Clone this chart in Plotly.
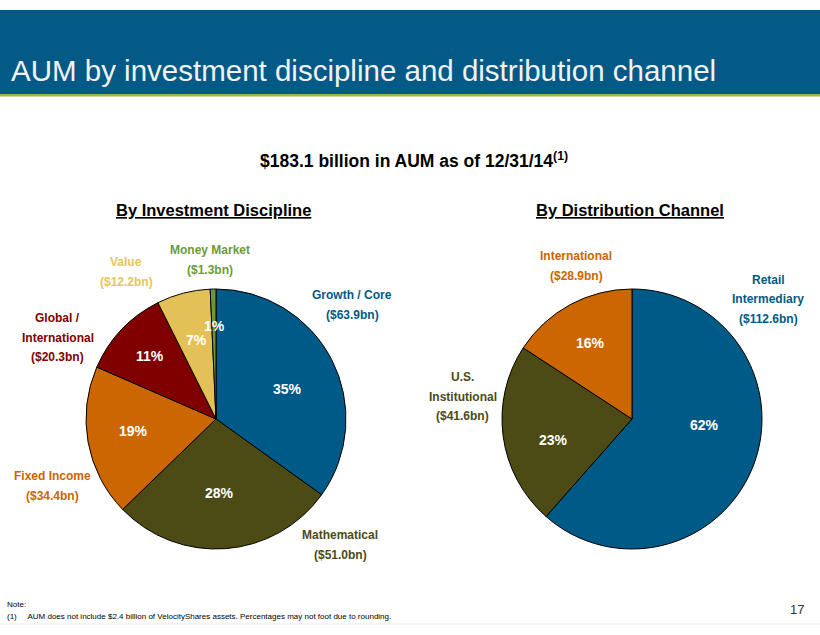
import plotly.graph_objects as go

# AUM by investment discipline ($bn), clockwise from 12 o'clock
disc_names = ["Growth / Core", "Mathematical", "Fixed Income",
              "Global / International", "Value", "Money Market"]
disc_aum = [63.9, 51.0, 34.4, 20.3, 12.2, 1.3]
disc_pct = ["35%", "28%", "19%", "11%", "7%", "1%"]
disc_colors = ["#005A87", "#4C4B16", "#CC6600", "#800000", "#E3C157", "#6B992F"]
disc_label_colors = ["#005A87", "#4C4B16", "#CC6600", "#800000", "#E6C45E", "#6E9A36"]

# AUM by distribution channel ($bn)
chan_names = ["Retail Intermediary", "U.S. Institutional", "International"]
chan_aum = [112.6, 41.6, 28.9]
chan_pct = ["62%", "23%", "16%"]
chan_colors = ["#005A87", "#4C4B16", "#CC6600"]

W, H = 820, 635
BAND = "#045A87"
ARIAL = "Liberation Sans, Arial, sans-serif"


def px(x):
    return x / W


def py(y):
    return 1 - y / H


def pie(names, vals, colors, cx, cy, r):
    return go.Pie(
        labels=names, values=vals, textinfo="none",
        marker=dict(colors=colors, line=dict(color="black", width=1)),
        sort=False, direction="clockwise", rotation=0,
        domain=dict(x=[px(cx - r), px(cx + r)], y=[py(cy + r), py(cy - r)]),
        hoverinfo="label+value+percent", showlegend=False,
    )


fig = go.Figure()
fig.add_trace(pie(disc_names, disc_aum, disc_colors, 216, 419, 130))
fig.add_trace(pie(chan_names, chan_aum, chan_colors, 632, 419, 130))

# header band
fig.add_shape(type="rect", xref="paper", yref="paper", x0=0, x1=1,
              y0=py(94), y1=py(10), fillcolor=BAND, line_width=0, layer="below")
fig.add_shape(type="rect", xref="paper", yref="paper", x0=0, x1=1,
              y0=py(96.5), y1=py(94), fillcolor="#9BBB3C", line_width=0, layer="below")
fig.add_shape(type="line", xref="paper", yref="paper", x0=0, x1=1,
              y0=py(624), y1=py(624), line=dict(color="#EBEBEB", width=1))

ann = []


def text(x, y, s, size, color="black", family=ARIAL, xanchor="center"):
    ann.append(dict(x=px(x), y=py(y), xref="paper", yref="paper", text=s,
                    showarrow=False, xanchor=xanchor, yanchor="middle",
                    font=dict(family=family, size=size, color=color)))


text(9, 71, "AUM by investment discipline and distribution channel", 29.5,
     "#F2F2F2", ARIAL, "left")
text(414, 160, "<b>$183.1 billion in AUM as of 12/31/14<sup>(1)</sup></b>", 17.5)
text(213, 210, "<b><u>By Investment Discipline</u></b>", 16.5)
text(630, 210, "<b><u>By Distribution Channel</u></b>", 16.5)

# percent labels inside the slices
disc_pct_xy = [(287, 389), (219, 493), (133, 431), (150, 356), (196, 340), (214, 326)]
chan_pct_xy = [(704, 425), (553, 440), (590, 343)]
for p, (x, y) in zip(disc_pct + chan_pct, disc_pct_xy + chan_pct_xy):
    text(x, y, "<b>%s</b>" % p, 14, "white")

# outside category labels: (lines, x, y of first line, colour)
outside = [
    (["Growth / Core", "($63.9bn)"], 352, 295, disc_label_colors[0]),
    (["Mathematical", "($51.0bn)"], 340, 535, disc_label_colors[1]),
    (["Fixed Income", "($34.4bn)"], 52, 476, disc_label_colors[2]),
    (["Global /", "International", "($20.3bn)"], 58, 318, disc_label_colors[3]),
    (["Value", "($12.2bn)"], 126, 262, disc_label_colors[4]),
    (["Money Market", "($1.3bn)"], 210, 250, disc_label_colors[5]),
    (["Retail", "Intermediary", "($112.6bn)"], 768, 280, chan_colors[0]),
    (["U.S.", "Institutional", "($41.6bn)"], 463, 377, chan_colors[1]),
    (["International", "($28.9bn)"], 576, 256, chan_colors[2]),
]
for lines, x, y, c in outside:
    for i, line in enumerate(lines):
        text(x, y + i * 19.5, "<b>" + line + "</b>", 12, c)

text(5, 604, "Note:", 8, "black", ARIAL, "left")
text(5, 616, "(1)&nbsp;&nbsp;&nbsp;&nbsp; AUM does not include $2.4 billion of VelocityShares assets. "
     "Percentages may not foot due to rounding.", 8, "black", ARIAL, "left")
text(806, 609, "17", 13, "#333333", ARIAL, "right")

fig.update_layout(
    width=W, height=H, margin=dict(l=0, r=0, t=0, b=0),
    paper_bgcolor="white", plot_bgcolor="white",
    annotations=ann,
)

fig.write_html("out.html", config={"displayModeBar": False},
               post_script="document.body.style.margin='0px';")
